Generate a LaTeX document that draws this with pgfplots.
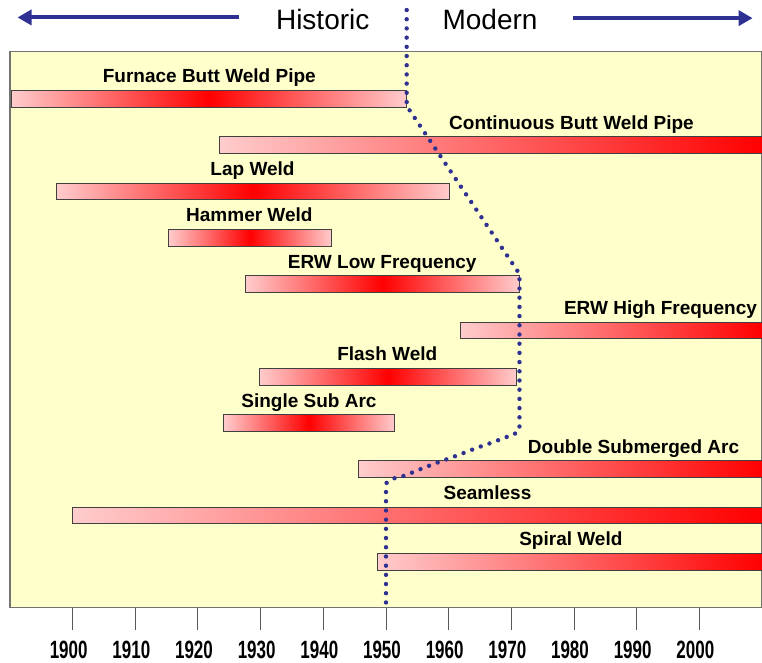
\documentclass[border=0pt]{standalone}
\usepackage{fontspec}
\setmainfont{Liberation Sans}
\newfontface\tickfont{Liberation Sans Bold}[FakeStretch=0.68]
\usepackage{pgfplots}
\pgfplotsset{compat=1.18}
\usetikzlibrary{arrows.meta}
\definecolor{bgyellow}{RGB}{255,255,204}
\definecolor{barpink}{RGB}{255,204,204}
\definecolor{barred}{RGB}{255,0,0}
\definecolor{navy}{RGB}{46,49,146}
\begin{document}
\begin{tikzpicture}
\useasboundingbox (-5pt,-27.85pt) rectangle (376pt,303.65pt);
\begin{axis}[
  scale only axis, width=376pt, height=277.8pt,
  xmin=1890, xmax=2010, ymin=-10.98, ymax=1.02,
  axis background/.style={fill=bgyellow},
  axis line style={black!55, line width=0.6pt},
  xtick={1900,1910,...,2000}, ytick=\empty,
  xtick pos=left, tick align=outside,
  major tick length=11.5pt,
  every tick/.style={black!65, line width=0.5pt},
  /pgf/number format/assume math mode=true,
  /pgf/number format/1000 sep={},
  x tick label style={font=\fontsize{12.5}{14}\selectfont\tickfont, anchor=north, inner sep=0pt, yshift=-5.2pt, xshift=-2pt},
  clip=false,
]
% finite bars: pale ends, red centre
\addplot[mark=none, draw=black!75, line width=0.5pt, left color=barpink, right color=barpink, middle color=barred]
  coordinates {(1890.2,-0.18) (1953.3,-0.18) (1953.3,0.18) (1890.2,0.18)} -- cycle;
\addplot[mark=none, draw=black!75, line width=0.5pt, left color=barpink, right color=barpink, middle color=barred]
  coordinates {(1897.4,-2.18) (1960.2,-2.18) (1960.2,-1.82) (1897.4,-1.82)} -- cycle;
\addplot[mark=none, draw=black!75, line width=0.5pt, left color=barpink, right color=barpink, middle color=barred]
  coordinates {(1915.3,-3.18) (1941.3,-3.18) (1941.3,-2.82) (1915.3,-2.82)} -- cycle;
\addplot[mark=none, draw=black!75, line width=0.5pt, left color=barpink, right color=barpink, middle color=barred]
  coordinates {(1927.6,-4.18) (1971.3,-4.18) (1971.3,-3.82) (1927.6,-3.82)} -- cycle;
\addplot[mark=none, draw=black!75, line width=0.5pt, left color=barpink, right color=barpink, middle color=barred]
  coordinates {(1929.8,-6.18) (1970.9,-6.18) (1970.9,-5.82) (1929.8,-5.82)} -- cycle;
\addplot[mark=none, draw=black!75, line width=0.5pt, left color=barpink, right color=barpink, middle color=barred]
  coordinates {(1924.1,-7.18) (1951.4,-7.18) (1951.4,-6.82) (1924.1,-6.82)} -- cycle;
% open-ended bars: pale to red
\addplot[mark=none, draw=black!75, line width=0.5pt, left color=barpink, right color=barred]
  coordinates {(1923.4,-1.18) (2010,-1.18) (2010,-0.82) (1923.4,-0.82)} -- cycle;
\addplot[mark=none, draw=black!75, line width=0.5pt, left color=barpink, right color=barred]
  coordinates {(1961.9,-5.18) (2010,-5.18) (2010,-4.82) (1961.9,-4.82)} -- cycle;
\addplot[mark=none, draw=black!75, line width=0.5pt, left color=barpink, right color=barred]
  coordinates {(1945.6,-8.18) (2010,-8.18) (2010,-7.82) (1945.6,-7.82)} -- cycle;
\addplot[mark=none, draw=black!75, line width=0.5pt, left color=barpink, right color=barred]
  coordinates {(1900.0,-9.18) (2010,-9.18) (2010,-8.82) (1900.0,-8.82)} -- cycle;
\addplot[mark=none, draw=black!75, line width=0.5pt, left color=barpink, right color=barred]
  coordinates {(1948.6,-10.18) (2010,-10.18) (2010,-9.82) (1948.6,-9.82)} -- cycle;
% historic / modern divide
\addplot[mark=none, navy, line width=2.2pt, line cap=round, dash pattern=on 0pt off 4.6pt]
  coordinates {(1953.3,1.92) (1953.3,-0.15) (1971.3,-3.78) (1971.3,-7.15) (1970.3,-7.26) (1968.8,-7.32)
  (1967.4,-7.40) (1964.4,-7.54) (1961.6,-7.69) (1958.7,-7.83) (1955.8,-7.98) (1952.9,-8.14)
  (1951.4,-8.19) (1950.1,-8.29) (1950,-8.48) (1950,-10.98)};
% labels
\begin{scope}[every node/.style={anchor=base, inner sep=0pt, font=\bfseries\fontsize{9.5}{11}\selectfont}]
\node at (axis cs:1921.8,0.345) {Furnace Butt Weld Pipe};
\node at (axis cs:1979.6,-0.655) {Continuous Butt Weld Pipe};
\node at (axis cs:1928.7,-1.655) {Lap Weld};
\node at (axis cs:1928.2,-2.655) {Hammer Weld};
\node at (axis cs:1949.4,-3.655) {ERW Low Frequency};
\node at (axis cs:1993.8,-4.655) {ERW High Frequency};
\node at (axis cs:1950.2,-5.655) {Flash Weld};
\node at (axis cs:1937.7,-6.655) {Single Sub Arc};
\node at (axis cs:1989.5,-7.655) {Double Submerged Arc};
\node at (axis cs:1966.2,-8.655) {Seamless};
\node at (axis cs:1979.5,-9.655) {Spiral Weld};
\end{scope}
% header
\draw[navy, line width=2pt, -{Triangle[length=7pt,width=7.5pt]}] (axis cs:1926.5,1.76) -- (axis cs:1891.2,1.76);
\draw[navy, line width=2pt, -{Triangle[length=7pt,width=7.5pt]}] (axis cs:1979.8,1.745) -- (axis cs:2008.5,1.745);
\node[anchor=base, inner sep=0pt, font=\fontsize{14}{16}\selectfont] at (axis cs:1939.9,1.49) {Historic};
\node[anchor=base, inner sep=0pt, font=\fontsize{14}{16}\selectfont] at (axis cs:1966.6,1.49) {Modern};
\end{axis}
\end{tikzpicture}
\end{document}
